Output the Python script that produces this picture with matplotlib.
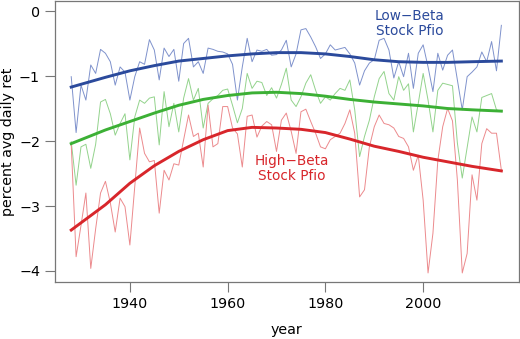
import numpy as np
import matplotlib
matplotlib.use("Agg")
import matplotlib.pyplot as plt

years = np.arange(1928, 2017)

low_beta = [-1.01, -1.87, -1.14, -1.37, -0.83, -0.96, -0.59, -0.65, -0.78, -1.14,
            -0.86, -0.94, -1.37, -1.01, -0.78, -0.82, -0.44, -0.60, -1.06, -0.57,
            -0.70, -0.59, -1.08, -0.50, -0.42, -0.86, -0.78, -0.96, -0.57, -0.59,
            -0.62, -0.63, -0.66, -0.82, -1.37, -0.86, -0.42, -0.78, -0.60, -0.62,
            -0.59, -0.68, -0.67, -0.60, -0.45, -0.86, -0.66, -0.29, -0.27, -0.40,
            -0.55, -0.73, -0.66, -0.52, -0.60, -0.58, -0.56, -0.66, -0.80, -1.14,
            -0.92, -0.80, -0.75, -0.45, -0.42, -0.60, -1.03, -0.78, -1.01, -0.65,
            -1.19, -0.65, -0.52, -0.86, -1.24, -0.65, -0.91, -0.68, -0.60, -1.06,
            -1.52, -1.01, -0.94, -0.86, -0.63, -0.78, -0.47, -0.92, -0.22]

mid_beta = [-2.01, -2.68, -2.09, -2.05, -2.42, -2.05, -1.40, -1.36, -1.58, -1.91,
            -1.73, -1.58, -2.29, -1.63, -1.37, -1.42, -1.34, -1.32, -2.06, -1.24,
            -1.78, -1.42, -1.86, -1.34, -1.04, -1.37, -1.19, -1.80, -1.42, -1.35,
            -1.30, -1.22, -1.20, -1.45, -1.72, -1.50, -0.96, -1.19, -1.08, -1.10,
            -1.30, -1.18, -1.34, -1.13, -0.88, -1.37, -1.47, -1.32, -1.11, -0.98,
            -1.22, -1.42, -1.32, -1.37, -1.27, -1.19, -1.22, -1.06, -1.52, -2.24,
            -1.93, -1.68, -1.32, -1.04, -0.93, -1.27, -1.37, -1.01, -1.22, -1.12,
            -1.86, -1.42, -0.96, -1.37, -1.86, -1.22, -1.11, -1.13, -1.15, -2.03,
            -2.57, -2.10, -1.63, -1.86, -1.33, -1.30, -1.27, -1.52, -1.55]

high_beta = [-2.05, -3.78, -3.30, -2.80, -3.96, -3.35, -2.80, -2.62, -2.95, -3.40,
             -2.88, -3.01, -3.60, -2.70, -1.80, -2.19, -2.32, -2.30, -3.11, -2.45,
             -2.60, -2.35, -2.37, -1.98, -1.60, -1.93, -1.88, -2.40, -1.45, -2.09,
             -2.04, -1.47, -1.47, -1.80, -1.89, -2.40, -1.62, -1.60, -1.94, -1.77,
             -1.70, -1.75, -2.16, -1.68, -1.57, -1.85, -2.19, -1.55, -1.51, -1.70,
             -1.88, -2.09, -2.12, -1.98, -1.93, -1.88, -1.73, -1.52, -1.88, -2.86,
             -2.75, -2.09, -1.78, -1.60, -1.73, -1.75, -1.80, -1.93, -1.96, -2.09,
             -2.45, -2.22, -2.91, -4.03, -3.42, -2.30, -1.78, -1.50, -1.69, -2.60,
             -4.03, -3.73, -2.52, -2.91, -2.04, -1.81, -1.88, -1.88, -2.45]

# smoothed trend lines
smooth_years = [1928, 1935, 1940, 1945, 1950, 1955, 1960, 1965, 1970, 1975,
                1980, 1985, 1990, 1995, 2000, 2005, 2010, 2016]
low_smooth = [-1.17, -1.02, -0.92, -0.84, -0.77, -0.73, -0.69, -0.66, -0.64, -0.64,
              -0.66, -0.70, -0.75, -0.78, -0.79, -0.79, -0.78, -0.77]
mid_smooth = [-2.04, -1.83, -1.70, -1.57, -1.45, -1.36, -1.30, -1.26, -1.25, -1.27,
              -1.31, -1.36, -1.40, -1.43, -1.46, -1.50, -1.52, -1.54]
high_smooth = [-3.37, -2.98, -2.65, -2.38, -2.16, -1.98, -1.84, -1.79, -1.80, -1.82,
               -1.87, -1.97, -2.08, -2.16, -2.25, -2.32, -2.39, -2.46]

blue, green, red = "#2b4a9c", "#3cb035", "#d8262b"

fig = plt.figure(figsize=(5.2, 3.39), dpi=100)
ax = fig.add_axes([0.105, 0.168, 0.893, 0.829])

ax.plot(years, low_beta, color="#7f92cc", lw=0.7)
ax.plot(years, mid_beta, color="#93d38c", lw=0.7)
ax.plot(years, high_beta, color="#ec8a8d", lw=0.7)
ax.plot(smooth_years, low_smooth, color=blue, lw=2.1)
ax.plot(smooth_years, mid_smooth, color=green, lw=2.1)
ax.plot(smooth_years, high_smooth, color=red, lw=2.1)

ax.text(1997.3, -0.19, "Low\u2212Beta\nStock Pfio", color=blue, fontsize=9.8,
        ha="center", va="center", linespacing=1.1)
ax.text(1973.1, -2.42, "High\u2212Beta\nStock Pfio", color=red, fontsize=9.8,
        ha="center", va="center", linespacing=1.1)

ax.set_xlim(1924.6, 2019.6)
ax.set_ylim(-4.17, 0.154)
ax.set_xticks([1940, 1960, 1980, 2000])
ax.set_yticks([0, -1, -2, -3, -4])
ax.set_yticklabels(["0", "\u22121", "\u22122", "\u22123", "\u22124"])
ax.tick_params(colors="#777777", labelcolor="black", labelsize=10.3, length=7, width=0.8)
for s in ax.spines.values():
    s.set_color("#777777")
    s.set_linewidth(0.9)

ax.set_xlabel("year", fontsize=10.3, labelpad=9)
ax.set_ylabel("percent avg daily ret", fontsize=10.3, labelpad=3)

fig.savefig("out.png", dpi=100)
